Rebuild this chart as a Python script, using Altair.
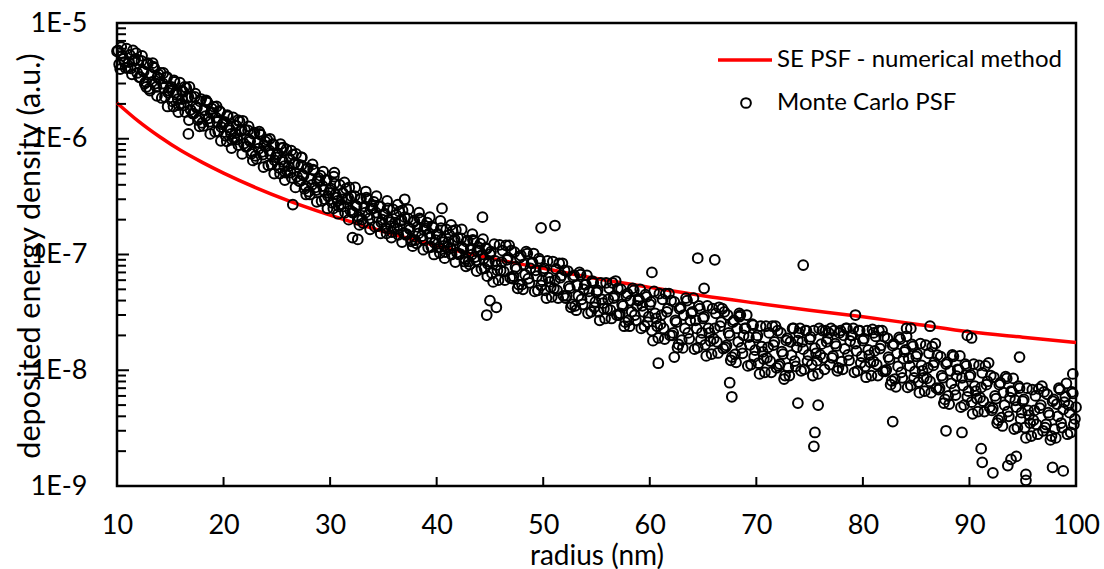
import altair as alt
import pandas as pd

# ---- SE PSF (numerical method) ----
se_x = [10, 12, 14, 16, 18, 20, 23, 26, 30, 35, 40, 45, 50, 55, 60, 65, 70, 75, 80, 85, 90, 95, 100]
se_y = [2.04e-6, 1.42e-6, 1.04e-6, 7.9e-7, 6.25e-7, 5.05e-7, 3.79e-7, 2.94e-7, 2.19e-7, 1.58e-7,
        1.19e-7, 9.3e-8, 7.6e-8, 6.2e-8, 5.2e-8, 4.4e-8, 3.8e-8, 3.3e-8, 2.9e-8, 2.5e-8,
        2.15e-8, 1.93e-8, 1.74e-8]

# ---- Monte Carlo PSF, read from the circles (radius nm, value) ----
mc_10s = [
    (10.0, 5.7e-6), (10.2, 4.4e-6), (10.4, 6.2e-6), (10.6, 4.9e-6), (10.8, 4.1e-6),
    (11.0, 4.1e-6), (11.2, 5.3e-6), (11.4, 3.6e-6), (11.6, 4.7e-6), (11.8, 5.5e-6),
    (12.0, 4.8e-6), (12.2, 3.4e-6), (12.4, 3.9e-6), (12.6, 3.0e-6), (12.8, 4.4e-6),
    (13.0, 2.7e-6), (13.2, 3.6e-6), (13.4, 4.2e-6), (13.6, 3.0e-6), (13.8, 3.4e-6),
    (14.0, 3.3e-6), (14.2, 2.25e-6), (14.4, 2.75e-6), (14.6, 3.4e-6), (14.8, 2.5e-6),
    (15.0, 2.75e-6), (15.2, 2.1e-6), (15.4, 3.1e-6), (15.6, 2.4e-6), (15.8, 1.95e-6),
    (16.0, 2.0e-6), (16.2, 2.55e-6), (16.4, 1.7e-6), (16.6, 2.25e-6), (16.8, 2.8e-6),
    (17.0, 2.3e-6), (17.2, 1.65e-6), (17.4, 1.9e-6), (17.6, 1.45e-6), (17.8, 2.1e-6),
    (18.0, 1.37e-6), (18.2, 1.78e-6), (18.4, 2.1e-6), (18.6, 1.5e-6), (18.8, 1.68e-6),
    (19.0, 1.67e-6), (19.2, 1.15e-6), (19.4, 1.4e-6), (19.6, 1.74e-6), (19.8, 1.26e-6),
    (10.1, 5.8e-6), (10.3, 4.0e-6), (10.5, 5.2e-6), (10.7, 4.6e-6), (10.9, 6.0e-6),
    (11.1, 4.6e-6), (11.3, 4.05e-6), (11.5, 5.8e-6), (11.7, 4.9e-6), (11.9, 3.7e-6),
    (12.1, 3.4e-6), (12.3, 4.7e-6), (12.5, 3.8e-6), (12.7, 3.1e-6), (12.9, 4.5e-6),
    (13.1, 2.6e-6), (13.3, 3.1e-6), (13.5, 4.1e-6), (13.7, 2.8e-6), (13.9, 3.6e-6),
    (14.1, 3.7e-6), (14.3, 3.0e-6), (14.5, 2.3e-6), (14.7, 3.4e-6), (14.9, 2.6e-6),
    (15.1, 2.8e-6), (15.3, 1.9e-6), (15.5, 2.5e-6), (15.7, 2.2e-6), (15.9, 3.05e-6),
    (16.1, 2.2e-6), (16.3, 1.94e-6), (16.5, 2.75e-6), (16.7, 2.3e-6), (16.9, 1.78e-6),
    (17.1, 1.65e-6), (17.3, 2.3e-6), (17.5, 1.84e-6), (17.7, 1.5e-6), (17.9, 2.2e-6),
    (18.1, 1.29e-6), (18.3, 1.57e-6), (18.5, 2.05e-6), (18.7, 1.4e-6), (18.9, 1.82e-6),
    (19.1, 1.89e-6), (19.3, 1.52e-6), (19.5, 1.16e-6), (19.7, 1.71e-6), (19.9, 1.33e-6),
]
mc_20s = [
    (20.0, 1.38e-6), (20.2, 1.06e-6), (20.4, 1.56e-6), (20.6, 1.19e-6), (20.8, 9.8e-7),
    (21.0, 1.01e-6), (21.2, 1.3e-6), (21.4, 8.8e-7), (21.6, 1.16e-6), (21.8, 1.43e-6),
    (22.0, 1.2e-6), (22.2, 8.6e-7), (22.4, 9.8e-7), (22.6, 7.4e-7), (22.8, 1.1e-6),
    (23.0, 7.1e-7), (23.2, 9.3e-7), (23.4, 1.1e-6), (23.6, 7.7e-7), (23.8, 8.8e-7),
    (24.0, 8.6e-7), (24.2, 5.9e-7), (24.4, 7.3e-7), (24.6, 9.0e-7), (24.8, 6.5e-7),
    (25.0, 7.3e-7), (25.2, 5.6e-7), (25.4, 8.3e-7), (25.6, 6.3e-7), (25.8, 5.1e-7),
    (26.0, 5.2e-7), (26.2, 6.7e-7), (26.4, 4.6e-7), (26.6, 6.0e-7), (26.8, 7.4e-7),
    (27.0, 6.0e-7), (27.2, 4.3e-7), (27.4, 4.9e-7), (27.6, 3.7e-7), (27.8, 5.5e-7),
    (28.0, 3.5e-7), (28.2, 4.5e-7), (28.4, 5.4e-7), (28.6, 3.8e-7), (28.8, 4.3e-7),
    (29.0, 4.3e-7), (29.2, 2.9e-7), (29.4, 3.6e-7), (29.6, 4.4e-7), (29.8, 3.2e-7),
    (20.1, 1.4e-6), (20.3, 9.5e-7), (20.5, 1.25e-6), (20.7, 1.1e-6), (20.9, 1.53e-6),
    (21.1, 1.12e-6), (21.3, 9.9e-7), (21.5, 1.41e-6), (21.7, 1.19e-6), (21.9, 9.1e-7),
    (22.1, 8.5e-7), (22.3, 1.18e-6), (22.5, 9.5e-7), (22.7, 7.7e-7), (22.9, 1.13e-6),
    (23.1, 6.7e-7), (23.3, 8.2e-7), (23.5, 1.08e-6), (23.7, 7.3e-7), (23.9, 9.5e-7),
    (24.1, 9.8e-7), (24.3, 7.9e-7), (24.5, 6.0e-7), (24.7, 8.9e-7), (24.9, 6.9e-7),
    (25.1, 7.4e-7), (25.3, 5.0e-7), (25.5, 6.6e-7), (25.7, 5.8e-7), (25.9, 8.1e-7),
    (26.1, 5.8e-7), (26.3, 5.1e-7), (26.5, 7.3e-7), (26.7, 6.2e-7), (26.9, 4.7e-7),
    (27.1, 4.3e-7), (27.3, 5.9e-7), (27.5, 4.8e-7), (27.7, 3.9e-7), (27.9, 5.6e-7),
    (28.1, 3.3e-7), (28.3, 4.0e-7), (28.5, 5.3e-7), (28.7, 3.6e-7), (28.9, 4.6e-7),
    (29.1, 4.8e-7), (29.3, 3.9e-7), (29.5, 3.0e-7), (29.7, 4.4e-7), (29.9, 3.4e-7),
]
mc_30s = [
    (30.0, 3.6e-7), (30.2, 2.8e-7), (30.4, 4.1e-7), (30.6, 3.1e-7), (30.8, 2.6e-7),
    (31.0, 2.7e-7), (31.2, 3.4e-7), (31.4, 2.3e-7), (31.6, 3.0e-7), (31.8, 3.8e-7),
    (32.0, 3.2e-7), (32.2, 2.3e-7), (32.4, 2.65e-7), (32.6, 2.0e-7), (32.8, 3.0e-7),
    (33.0, 2.0e-7), (33.2, 2.6e-7), (33.4, 3.1e-7), (33.6, 2.2e-7), (33.8, 2.45e-7),
    (34.0, 2.5e-7), (34.2, 1.74e-7), (34.4, 2.1e-7), (34.6, 2.6e-7), (34.8, 1.9e-7),
    (35.0, 2.2e-7), (35.2, 1.7e-7), (35.4, 2.5e-7), (35.6, 1.9e-7), (35.8, 1.56e-7),
    (36.0, 1.7e-7), (36.2, 2.2e-7), (36.4, 1.48e-7), (36.6, 1.94e-7), (36.8, 2.4e-7),
    (37.0, 2.1e-7), (37.2, 1.5e-7), (37.4, 1.7e-7), (37.6, 1.3e-7), (37.8, 1.9e-7),
    (38.0, 1.33e-7), (38.2, 1.73e-7), (38.4, 2.05e-7), (38.6, 1.44e-7), (38.8, 1.63e-7),
    (39.0, 1.67e-7), (39.2, 1.15e-7), (39.4, 1.4e-7), (39.6, 1.74e-7), (39.8, 1.26e-7),
    (30.1, 3.7e-7), (30.3, 2.5e-7), (30.5, 3.3e-7), (30.7, 2.9e-7), (30.9, 4.0e-7),
    (31.1, 3.0e-7), (31.3, 2.6e-7), (31.5, 3.7e-7), (31.7, 3.1e-7), (31.9, 2.4e-7),
    (32.1, 2.3e-7), (32.3, 3.2e-7), (32.5, 2.6e-7), (32.7, 2.1e-7), (32.9, 3.05e-7),
    (33.1, 1.87e-7), (33.3, 2.3e-7), (33.5, 3.0e-7), (33.7, 2.05e-7), (33.9, 2.65e-7),
    (34.1, 2.85e-7), (34.3, 2.3e-7), (34.5, 1.76e-7), (34.7, 2.6e-7), (34.9, 2.0e-7),
    (35.1, 2.25e-7), (35.3, 1.52e-7), (35.5, 2.0e-7), (35.7, 1.76e-7), (35.9, 2.45e-7),
    (36.1, 1.89e-7), (36.3, 1.67e-7), (36.5, 2.35e-7), (36.7, 2.0e-7), (36.9, 1.54e-7),
    (37.1, 1.48e-7), (37.3, 2.05e-7), (37.5, 1.65e-7), (37.7, 1.34e-7), (37.9, 1.96e-7),
    (38.1, 1.25e-7), (38.3, 1.52e-7), (38.5, 2.0e-7), (38.7, 1.36e-7), (38.9, 1.76e-7),
    (39.1, 1.89e-7), (39.3, 1.52e-7), (39.5, 1.16e-7), (39.7, 1.71e-7), (39.9, 1.33e-7),
]
mc_40s = [
    (40.0, 1.49e-7), (40.2, 1.15e-7), (40.4, 1.69e-7), (40.6, 1.28e-7), (40.8, 1.05e-7),
    (41.0, 1.15e-7), (41.2, 1.48e-7), (41.4, 1.0e-7), (41.6, 1.31e-7), (41.8, 1.63e-7),
    (42.0, 1.4e-7), (42.2, 1.01e-7), (42.4, 1.15e-7), (42.6, 8.7e-8), (42.8, 1.29e-7),
    (43.0, 8.7e-8), (43.2, 1.13e-7), (43.4, 1.34e-7), (43.6, 9.5e-8), (43.8, 1.07e-7),
    (44.0, 1.09e-7), (44.2, 7.5e-8), (44.4, 9.2e-8), (44.6, 1.14e-7), (44.8, 8.3e-8),
    (45.0, 1.01e-7), (45.2, 6.9e-8), (45.4, 1.23e-7), (45.6, 8.1e-8), (45.8, 6.0e-8),
    (46.0, 7.3e-8), (46.2, 1.08e-7), (46.4, 6.0e-8), (46.6, 9.0e-8), (46.8, 1.2e-7),
    (47.0, 1.08e-7), (47.2, 6.5e-8), (47.4, 7.8e-8), (47.6, 5.1e-8), (47.8, 9.4e-8),
    (48.0, 5.5e-8), (48.2, 8.2e-8), (48.4, 1.06e-7), (48.6, 6.2e-8), (48.8, 7.6e-8),
    (49.0, 8.5e-8), (49.2, 4.8e-8), (49.4, 6.5e-8), (49.6, 9.2e-8), (49.8, 5.4e-8),
    (40.1, 1.51e-7), (40.3, 1.03e-7), (40.5, 1.35e-7), (40.7, 1.19e-7), (40.9, 1.65e-7),
    (41.1, 1.28e-7), (41.3, 1.13e-7), (41.5, 1.6e-7), (41.7, 1.35e-7), (41.9, 1.04e-7),
    (42.1, 1.0e-7), (42.3, 1.38e-7), (42.5, 1.12e-7), (42.7, 9.1e-8), (42.9, 1.32e-7),
    (43.1, 8.2e-8), (43.3, 1.0e-7), (43.5, 1.31e-7), (43.7, 8.9e-8), (43.9, 1.16e-7),
    (44.1, 1.24e-7), (44.3, 1.0e-7), (44.5, 7.6e-8), (44.7, 1.12e-7), (44.9, 8.7e-8),
    (45.1, 1.06e-7), (45.3, 5.8e-8), (45.5, 8.8e-8), (45.7, 7.3e-8), (45.9, 1.21e-7),
    (46.1, 8.6e-8), (46.3, 7.1e-8), (46.5, 1.2e-7), (46.7, 9.4e-8), (46.9, 6.3e-8),
    (47.1, 6.2e-8), (47.3, 1.05e-7), (47.5, 7.5e-8), (47.7, 5.5e-8), (47.9, 9.8e-8),
    (48.1, 5.0e-8), (48.3, 6.7e-8), (48.5, 1.02e-7), (48.7, 5.7e-8), (48.9, 8.4e-8),
    (49.1, 1.02e-7), (49.3, 7.3e-8), (49.5, 4.9e-8), (49.7, 8.8e-8), (49.9, 6.0e-8),
]
mc_50s = [
    (50.0, 7.2e-8), (50.2, 4.9e-8), (50.4, 8.8e-8), (50.6, 5.8e-8), (50.8, 4.3e-8),
    (51.0, 5.1e-8), (51.2, 7.5e-8), (51.4, 4.2e-8), (51.6, 6.3e-8), (51.8, 8.4e-8),
    (52.0, 7.3e-8), (52.2, 4.4e-8), (52.4, 5.3e-8), (52.6, 3.5e-8), (52.8, 6.4e-8),
    (53.0, 3.6e-8), (53.2, 5.4e-8), (53.4, 7.0e-8), (53.6, 4.1e-8), (53.8, 5.0e-8),
    (54.0, 5.5e-8), (54.2, 3.1e-8), (54.4, 4.2e-8), (54.6, 5.9e-8), (54.8, 3.5e-8),
    (55.0, 4.7e-8), (55.2, 3.2e-8), (55.4, 5.7e-8), (55.6, 3.8e-8), (55.8, 2.8e-8),
    (56.0, 3.4e-8), (56.2, 5.1e-8), (56.4, 2.8e-8), (56.6, 4.2e-8), (56.8, 5.9e-8),
    (57.0, 5.1e-8), (57.2, 3.1e-8), (57.4, 3.7e-8), (57.6, 2.4e-8), (57.8, 4.4e-8),
    (58.0, 2.7e-8), (58.2, 4.0e-8), (58.4, 5.1e-8), (58.6, 3.0e-8), (58.8, 3.6e-8),
    (59.0, 4.1e-8), (59.2, 2.3e-8), (59.4, 3.2e-8), (59.6, 4.5e-8), (59.8, 2.6e-8),
    (50.1, 7.6e-8), (50.3, 4.2e-8), (50.5, 6.3e-8), (50.7, 5.2e-8), (50.9, 8.7e-8),
    (51.1, 6.0e-8), (51.3, 4.9e-8), (51.5, 8.4e-8), (51.7, 6.6e-8), (51.9, 4.4e-8),
    (52.1, 4.2e-8), (52.3, 7.2e-8), (52.5, 5.1e-8), (52.7, 3.7e-8), (52.9, 6.6e-8),
    (53.1, 3.3e-8), (53.3, 4.4e-8), (53.5, 6.7e-8), (53.7, 3.7e-8), (53.9, 5.5e-8),
    (54.1, 6.6e-8), (54.3, 4.8e-8), (54.5, 3.2e-8), (54.7, 5.7e-8), (54.9, 3.9e-8),
    (55.1, 4.9e-8), (55.3, 2.7e-8), (55.5, 4.1e-8), (55.7, 3.4e-8), (55.9, 5.7e-8),
    (56.1, 4.1e-8), (56.3, 3.3e-8), (56.5, 5.7e-8), (56.7, 4.4e-8), (56.9, 3.0e-8),
    (57.1, 3.0e-8), (57.3, 5.0e-8), (57.5, 3.6e-8), (57.7, 2.6e-8), (57.9, 4.6e-8),
    (58.1, 2.4e-8), (58.3, 3.2e-8), (58.5, 4.9e-8), (58.7, 2.7e-8), (58.9, 4.0e-8),
    (59.1, 5.0e-8), (59.3, 3.6e-8), (59.5, 2.4e-8), (59.7, 4.3e-8), (59.9, 2.9e-8),
]
mc_60s = [
    (60.0, 3.7e-8), (60.2, 2.2e-8), (60.4, 4.8e-8), (60.6, 2.8e-8), (60.8, 1.9e-8),
    (61.0, 2.5e-8), (61.2, 4.1e-8), (61.4, 1.86e-8), (61.6, 3.2e-8), (61.8, 4.6e-8),
    (62.0, 4.0e-8), (62.2, 2.1e-8), (62.4, 2.7e-8), (62.6, 1.57e-8), (62.8, 3.4e-8),
    (63.0, 1.82e-8), (63.2, 3.0e-8), (63.4, 4.2e-8), (63.6, 2.1e-8), (63.8, 2.7e-8),
    (64.0, 3.2e-8), (64.2, 1.52e-8), (64.4, 2.3e-8), (64.6, 3.6e-8), (64.8, 1.84e-8),
    (65.0, 2.8e-8), (65.2, 1.66e-8), (65.4, 3.6e-8), (65.6, 2.1e-8), (65.8, 1.38e-8),
    (66.0, 1.87e-8), (66.2, 3.1e-8), (66.4, 1.41e-8), (66.6, 2.4e-8), (66.8, 3.4e-8),
    (67.0, 3.2e-8), (67.2, 1.64e-8), (67.4, 2.1e-8), (67.6, 1.22e-8), (67.8, 2.6e-8),
    (68.0, 1.37e-8), (68.2, 2.3e-8), (68.4, 2.9e-8), (68.6, 1.56e-8), (68.8, 2.0e-8),
    (69.0, 2.3e-8), (69.2, 1.09e-8), (69.4, 1.66e-8), (69.6, 2.5e-8), (69.8, 1.31e-8),
    (60.1, 3.9e-8), (60.3, 1.8e-8), (60.5, 3.1e-8), (60.7, 2.4e-8), (60.9, 4.6e-8),
    (61.1, 3.0e-8), (61.3, 2.3e-8), (61.5, 4.6e-8), (61.7, 3.4e-8), (61.9, 2.0e-8),
    (62.1, 2.0e-8), (62.3, 3.9e-8), (62.5, 2.6e-8), (62.7, 1.67e-8), (62.9, 3.5e-8),
    (63.1, 1.56e-8), (63.3, 2.3e-8), (63.5, 4.0e-8), (63.7, 1.87e-8), (63.9, 3.1e-8),
    (64.1, 4.2e-8), (64.3, 2.7e-8), (64.5, 1.57e-8), (64.7, 3.4e-8), (64.9, 2.1e-8),
    (65.1, 2.9e-8), (65.3, 1.33e-8), (65.5, 2.3e-8), (65.7, 1.79e-8), (65.9, 3.4e-8),
    (66.1, 2.3e-8), (66.3, 1.76e-8), (66.5, 3.5e-8), (66.7, 2.6e-8), (66.9, 1.54e-8),
    (67.1, 1.58e-8), (67.3, 3.0e-8), (67.5, 2.0e-8), (67.7, 1.3e-8), (67.9, 2.7e-8),
    (68.1, 1.17e-8), (68.3, 1.76e-8), (68.5, 3.0e-8), (68.7, 1.4e-8), (68.9, 2.3e-8),
    (69.1, 3.0e-8), (69.3, 1.93e-8), (69.5, 1.12e-8), (69.7, 2.45e-8), (69.9, 1.49e-8),
]
mc_70s = [
    (70.0, 1.92e-8), (70.2, 1.15e-8), (70.4, 2.4e-8), (70.6, 1.44e-8), (70.8, 9.6e-9),
    (71.0, 1.28e-8), (71.2, 2.1e-8), (71.4, 9.6e-9), (71.6, 1.65e-8), (71.8, 2.4e-8),
    (72.0, 2.2e-8), (72.2, 1.13e-8), (72.4, 1.45e-8), (72.6, 8.4e-9), (72.8, 1.81e-8),
    (73.0, 1.05e-8), (73.2, 1.76e-8), (73.4, 2.3e-8), (73.6, 1.2e-8), (73.8, 1.58e-8),
    (74.0, 2.1e-8), (74.2, 9.9e-9), (74.4, 1.52e-8), (74.6, 2.2e-8), (74.8, 1.2e-8),
    (75.0, 1.86e-8), (75.2, 1.12e-8), (75.4, 2.2e-8), (75.6, 1.4e-8), (75.8, 9.3e-9),
    (76.0, 1.36e-8), (76.2, 2.2e-8), (76.4, 1.02e-8), (76.6, 1.76e-8), (76.8, 2.1e-8),
    (77.0, 2.3e-8), (77.2, 1.33e-8), (77.4, 1.7e-8), (77.6, 9.9e-9), (77.8, 2.1e-8),
    (78.0, 1.19e-8), (78.2, 2.0e-8), (78.4, 2.3e-8), (78.6, 1.36e-8), (78.8, 1.79e-8),
    (79.0, 2.0e-8), (79.2, 9.6e-9), (79.4, 1.47e-8), (79.6, 2.2e-8), (79.8, 1.16e-8),
    (70.1, 2.0e-8), (70.3, 9.3e-9), (70.5, 1.6e-8), (70.7, 1.25e-8), (70.9, 2.4e-8),
    (71.1, 1.58e-8), (71.3, 1.2e-8), (71.5, 2.4e-8), (71.7, 1.76e-8), (71.9, 1.05e-8),
    (72.1, 1.09e-8), (72.3, 2.1e-8), (72.5, 1.38e-8), (72.7, 9.0e-9), (72.9, 1.89e-8),
    (73.1, 9.0e-9), (73.3, 1.35e-8), (73.5, 2.3e-8), (73.7, 1.08e-8), (73.9, 1.8e-8),
    (74.1, 2.3e-8), (74.3, 1.76e-8), (74.5, 1.02e-8), (74.7, 2.2e-8), (74.9, 1.36e-8),
    (75.1, 1.94e-8), (75.3, 9.0e-9), (75.5, 1.55e-8), (75.7, 1.21e-8), (75.9, 2.3e-8),
    (76.1, 1.68e-8), (76.3, 1.28e-8), (76.5, 2.2e-8), (76.7, 1.87e-8), (76.9, 1.12e-8),
    (77.1, 1.28e-8), (77.3, 2.2e-8), (77.5, 1.62e-8), (77.7, 1.05e-8), (77.9, 2.2e-8),
    (78.1, 1.02e-8), (78.3, 1.53e-8), (78.5, 2.3e-8), (78.7, 1.22e-8), (78.9, 2.0e-8),
    (79.1, 2.3e-8), (79.3, 1.7e-8), (79.5, 9.9e-9), (79.7, 2.2e-8), (79.9, 1.32e-8),
]
mc_80s = [
    (80.0, 1.8e-8), (80.2, 1.08e-8), (80.4, 2.2e-8), (80.6, 1.35e-8), (80.8, 9.0e-9),
    (81.0, 1.19e-8), (81.2, 1.96e-8), (81.4, 9.0e-9), (81.6, 1.54e-8), (81.8, 2.2e-8),
    (82.0, 1.95e-8), (82.2, 1.01e-8), (82.4, 1.3e-8), (82.6, 7.5e-9), (82.8, 1.63e-8),
    (83.0, 8.4e-9), (83.2, 1.4e-8), (83.4, 1.92e-8), (83.6, 9.6e-9), (83.8, 1.26e-8),
    (84.0, 1.5e-8), (84.2, 7.1e-9), (84.4, 1.09e-8), (84.6, 1.67e-8), (84.8, 8.6e-9),
    (85.0, 1.32e-8), (85.2, 7.9e-9), (85.4, 1.7e-8), (85.6, 9.9e-9), (85.8, 6.6e-9),
    (86.0, 8.5e-9), (86.2, 1.4e-8), (86.4, 6.4e-9), (86.6, 1.1e-8), (86.8, 1.7e-8),
    (87.0, 1.35e-8), (87.2, 7.0e-9), (87.4, 9.0e-9), (87.6, 5.2e-9), (87.8, 1.13e-8),
    (88.0, 6.0e-9), (88.2, 9.9e-9), (88.4, 1.36e-8), (88.6, 6.8e-9), (88.8, 8.9e-9),
    (89.0, 1.01e-8), (89.2, 4.8e-9), (89.4, 7.4e-9), (89.6, 1.13e-8), (89.8, 5.9e-9),
    (80.1, 1.88e-8), (80.3, 8.7e-9), (80.5, 1.5e-8), (80.7, 1.17e-8), (80.9, 2.25e-8),
    (81.1, 1.47e-8), (81.3, 1.12e-8), (81.5, 2.2e-8), (81.7, 1.64e-8), (81.9, 9.8e-9),
    (82.1, 9.8e-9), (82.3, 1.89e-8), (82.5, 1.24e-8), (82.7, 8.1e-9), (82.9, 1.69e-8),
    (83.1, 7.2e-9), (83.3, 1.08e-8), (83.5, 1.86e-8), (83.7, 8.6e-9), (83.9, 1.44e-8),
    (84.1, 1.96e-8), (84.3, 1.27e-8), (84.5, 7.4e-9), (84.7, 1.61e-8), (84.9, 9.8e-9),
    (85.1, 1.38e-8), (85.3, 6.4e-9), (85.5, 1.1e-8), (85.7, 8.6e-9), (85.9, 1.65e-8),
    (86.1, 1.05e-8), (86.3, 8.0e-9), (86.5, 1.6e-8), (86.7, 1.17e-8), (86.9, 7.0e-9),
    (87.1, 6.8e-9), (87.3, 1.31e-8), (87.5, 8.6e-9), (87.7, 5.6e-9), (87.9, 1.17e-8),
    (88.1, 5.1e-9), (88.3, 7.7e-9), (88.5, 1.32e-8), (88.7, 6.1e-9), (88.9, 1.02e-8),
    (89.1, 1.33e-8), (89.3, 8.6e-9), (89.5, 5.0e-9), (89.7, 1.09e-8), (89.9, 6.6e-9),
]
mc_90s = [
    (90.0, 8.8e-9), (90.2, 5.3e-9), (90.4, 1.13e-8), (90.6, 6.6e-9), (90.8, 4.4e-9),
    (91.0, 5.8e-9), (91.2, 9.5e-9), (91.4, 4.4e-9), (91.6, 7.5e-9), (91.8, 1.16e-8),
    (92.0, 9.0e-9), (92.2, 4.7e-9), (92.4, 6.0e-9), (92.6, 3.5e-9), (92.8, 7.5e-9),
    (93.0, 3.9e-9), (93.2, 6.4e-9), (93.4, 8.8e-9), (93.6, 4.4e-9), (93.8, 5.8e-9),
    (94.0, 6.5e-9), (94.2, 3.1e-9), (94.4, 4.8e-9), (94.6, 7.3e-9), (94.8, 3.8e-9),
    (95.0, 5.4e-9), (95.2, 3.2e-9), (95.4, 7.0e-9), (95.6, 4.1e-9), (95.8, 2.7e-9),
    (96.0, 3.7e-9), (96.2, 6.0e-9), (96.4, 2.8e-9), (96.6, 4.7e-9), (96.8, 7.3e-9),
    (97.0, 6.5e-9), (97.2, 3.4e-9), (97.4, 4.3e-9), (97.6, 2.5e-9), (97.8, 5.4e-9),
    (98.0, 3.1e-9), (98.2, 5.1e-9), (98.4, 7.0e-9), (98.6, 3.5e-9), (98.8, 4.6e-9),
    (99.0, 5.9e-9), (99.2, 2.8e-9), (99.4, 4.3e-9), (99.6, 6.5e-9), (99.8, 3.4e-9),
    (100.0, 4.8e-9),
    (90.1, 9.1e-9), (90.3, 4.2e-9), (90.5, 7.3e-9), (90.7, 5.7e-9), (90.9, 1.1e-8),
    (91.1, 7.1e-9), (91.3, 5.4e-9), (91.5, 1.09e-8), (91.7, 8.0e-9), (91.9, 4.8e-9),
    (92.1, 4.5e-9), (92.3, 8.7e-9), (92.5, 5.7e-9), (92.7, 3.7e-9), (92.9, 7.8e-9),
    (93.1, 3.3e-9), (93.3, 5.0e-9), (93.5, 8.5e-9), (93.7, 4.0e-9), (93.9, 6.6e-9),
    (94.1, 8.5e-9), (94.3, 5.5e-9), (94.5, 3.2e-9), (94.7, 7.0e-9), (94.9, 4.3e-9),
    (95.1, 5.6e-9), (95.3, 2.6e-9), (95.5, 4.5e-9), (95.7, 3.5e-9), (95.9, 6.8e-9),
    (96.1, 4.5e-9), (96.3, 3.4e-9), (96.5, 6.9e-9), (96.7, 5.0e-9), (96.9, 3.0e-9),
    (97.1, 3.2e-9), (97.3, 6.2e-9), (97.5, 4.1e-9), (97.7, 2.7e-9), (97.9, 5.6e-9),
    (98.1, 2.6e-9), (98.3, 4.0e-9), (98.5, 6.8e-9), (98.7, 3.2e-9), (98.9, 5.3e-9),
    (99.1, 7.7e-9), (99.3, 5.0e-9), (99.5, 2.9e-9), (99.7, 6.3e-9), (99.9, 3.8e-9),
]
# upper and lower edge of the band between 12 and 45 nm
mc_edges = [
    (12.35, 5.2e-6), (12.75, 2.8e-6), (13.35, 4.5e-6), (13.75, 2.35e-6),
    (14.35, 3.7e-6), (14.75, 1.9e-6), (15.35, 3.2e-6), (15.75, 1.7e-6),
    (16.35, 2.8e-6), (16.75, 1.45e-6), (17.35, 2.45e-6), (17.75, 1.28e-6),
    (18.35, 2.15e-6), (18.75, 1.1e-6), (19.35, 1.9e-6), (19.75, 9.6e-7),
    (20.35, 1.6e-6), (20.75, 8.3e-7), (21.35, 1.45e-6), (21.75, 7.4e-7),
    (22.35, 1.28e-6), (22.75, 6.5e-7), (23.35, 1.15e-6), (23.75, 5.7e-7),
    (24.35, 1.0e-6), (24.75, 5.0e-7), (25.35, 9.0e-7), (25.75, 4.4e-7),
    (26.35, 7.9e-7), (26.75, 3.8e-7), (27.35, 6.9e-7), (27.75, 3.3e-7),
    (28.35, 6.0e-7), (28.75, 2.85e-7), (29.35, 5.2e-7), (29.75, 2.5e-7),
    (30.35, 4.7e-7), (30.75, 2.25e-7), (31.35, 4.2e-7), (31.75, 2.0e-7),
    (32.35, 3.8e-7), (32.75, 1.8e-7), (33.35, 3.5e-7), (33.75, 1.65e-7),
    (34.35, 3.2e-7), (34.75, 1.52e-7), (35.35, 2.9e-7), (35.75, 1.4e-7),
    (36.35, 2.7e-7), (36.75, 1.28e-7), (37.35, 2.45e-7), (37.75, 1.18e-7),
    (38.35, 2.3e-7), (38.75, 1.1e-7), (39.35, 2.1e-7), (39.75, 1.0e-7),
    (40.35, 1.95e-7), (40.75, 9.3e-8), (41.35, 1.8e-7), (41.75, 8.6e-8),
    (42.35, 1.65e-7), (42.75, 7.9e-8), (43.35, 1.5e-7), (43.75, 7.2e-8),
    (44.35, 1.36e-7), (44.75, 6.5e-8),
]
mc_outliers = [
    (16.1, 2.6e-6), (16.7, 1.1e-6), (25.6, 8.4e-7), (26.5, 2.7e-7), (27.3, 6.9e-7),
    (30.4, 5.1e-7), (32.1, 1.4e-7), (32.6, 1.35e-7), (37.0, 3.0e-7), (40.5, 2.5e-7),
    (44.3, 2.1e-7), (44.7, 3.0e-8), (45.6, 3.5e-8), (45.0, 4.0e-8), (49.8, 1.7e-7),
    (51.1, 1.78e-7), (60.2, 7.0e-8), (60.8, 1.15e-8), (62.3, 1.3e-8), (64.5, 9.3e-8),
    (65.1, 5.1e-8), (66.1, 9.0e-8), (67.7, 5.9e-9), (67.5, 7.8e-9), (68.4, 3.1e-8),
    (74.4, 8.1e-8), (75.5, 2.9e-9), (75.4, 2.2e-9), (73.9, 5.2e-9), (75.8, 5.0e-9),
    (79.3, 3.0e-8), (81.0, 2.1e-8), (82.8, 3.6e-9), (84.1, 2.3e-8), (84.5, 2.3e-8),
    (86.3, 2.4e-8), (87.8, 3.0e-9), (89.3, 2.9e-9), (89.8, 2.0e-8), (90.2, 1.9e-8),
    (91.1, 2.1e-9), (91.2, 1.6e-9), (92.2, 1.3e-9), (93.6, 1.5e-9), (93.9, 1.7e-9),
    (94.4, 1.8e-9), (94.7, 1.3e-8), (95.3, 1.26e-9), (95.3, 1.12e-9), (97.8, 1.45e-9),
    (98.8, 1.35e-9), (99.7, 9.3e-9),
]

# ---- axis ticks ----
x_ticks = [10, 20, 30, 40, 50, 60, 70, 80, 90, 100]
y_major = [1e-9, 1e-8, 1e-7, 1e-6, 1e-5]
y_minor = [2e-9, 3e-9, 4e-9, 5e-9, 6e-9, 7e-9, 8e-9, 9e-9,
           2e-8, 3e-8, 4e-8, 5e-8, 6e-8, 7e-8, 8e-8, 9e-8,
           2e-7, 3e-7, 4e-7, 5e-7, 6e-7, 7e-7, 8e-7, 9e-7,
           2e-6, 3e-6, 4e-6, 5e-6, 6e-6, 7e-6, 8e-6, 9e-6]

FONT = "Lato"
W, H = 959, 463

mc_all = (mc_10s + mc_20s + mc_30s + mc_40s + mc_50s + mc_60s + mc_70s + mc_80s + mc_90s
          + mc_edges + mc_outliers)
mc_df = pd.DataFrame(mc_all, columns=["x", "y"])
se_df = pd.DataFrame({"x": se_x, "y": se_y})

xs = alt.Scale(domain=[10, 100], nice=False, zero=False)
ys = alt.Scale(type="log", domain=[1e-9, 1e-5], nice=False)

x_axis = alt.Axis(values=x_ticks, ticks=False, tickSize=0, domain=False, grid=False,
                  labelFont=FONT, labelFontSize=27, labelColor="black",
                  labelBaseline="alphabetic", labelPadding=47, labelFlush=False,
                  title="radius (nm)", titleFont=FONT, titleFontSize=28,
                  titleFontWeight="normal", titleColor="black",
                  titleBaseline="alphabetic", titleY=78, titleX=W / 2)
y_axis = alt.Axis(values=y_major, ticks=False, tickSize=0, domain=False, grid=False,
                  labelFont=FONT, labelFontSize=27, labelColor="black",
                  labelPadding=30, labelBaseline="middle", labelFlush=False,
                  labelExpr="'1E' + round(log(datum.value) / LN10)",
                  title="deposited energy density (a.u.)", titleFont=FONT,
                  titleFontSize=30.5, titleFontWeight="normal", titleColor="black",
                  titleBaseline="alphabetic", titleAngle=-90, titleX=-78, titleY=H / 2 + 1)

line = alt.Chart(se_df).mark_line(color="#ff0000", strokeWidth=3.5, interpolate="monotone").encode(
    x=alt.X("x:Q", scale=xs, axis=x_axis),
    y=alt.Y("y:Q", scale=ys, axis=y_axis),
)

PT_SIZE, PT_SW = 95, 2.0
points = alt.Chart(mc_df).mark_point(shape="circle", filled=False, color="black",
                                     size=PT_SIZE, strokeWidth=PT_SW, opacity=1).encode(
    x=alt.X("x:Q", scale=xs, axis=x_axis),
    y=alt.Y("y:Q", scale=ys, axis=y_axis),
)

ymaj = alt.Chart(pd.DataFrame({"y": y_major})).mark_rule(color="black", strokeWidth=2).encode(
    y=alt.Y("y:Q", scale=ys, axis=y_axis), x=alt.value(0), x2=alt.value(12))
ymin = alt.Chart(pd.DataFrame({"y": y_minor})).mark_rule(color="black", strokeWidth=2).encode(
    y=alt.Y("y:Q", scale=ys, axis=y_axis), x=alt.value(0), x2=alt.value(9))
xtk = alt.Chart(pd.DataFrame({"x": x_ticks})).mark_rule(color="black", strokeWidth=2).encode(
    x=alt.X("x:Q", scale=xs, axis=x_axis), y=alt.value(H), y2=alt.value(H - 9))

one = pd.DataFrame({"k": [0]})
leg_line = alt.Chart(one).mark_rule(color="#ff0000", strokeWidth=3.5).encode(
    x=alt.value(601), x2=alt.value(655), y=alt.value(37))
leg_pt = alt.Chart(one).mark_point(shape="circle", filled=False, color="black",
                                   size=PT_SIZE, strokeWidth=PT_SW, opacity=1).encode(
    x=alt.value(629), y=alt.value(80))
leg_t1 = alt.Chart(one).mark_text(align="left", baseline="middle", font=FONT, fontSize=24,
                                  color="black").encode(
    x=alt.value(660), y=alt.value(37), text=alt.value("SE PSF - numerical method"))
leg_t2 = alt.Chart(one).mark_text(align="left", baseline="middle", font=FONT, fontSize=24,
                                  color="black").encode(
    x=alt.value(660), y=alt.value(80), text=alt.value("Monte Carlo PSF"))

chart = alt.layer(line, points, ymaj, ymin, xtk, leg_line, leg_pt, leg_t1, leg_t2).properties(
    width=W, height=H,
    autosize=alt.AutoSizeParams(type="none"),
    padding={"left": 117, "top": 23, "right": 28, "bottom": 83},
    background="white",
).configure_view(stroke="black", strokeWidth=2.5)

chart.save("out.html", embed_options={"renderer": "svg", "actions": False})
